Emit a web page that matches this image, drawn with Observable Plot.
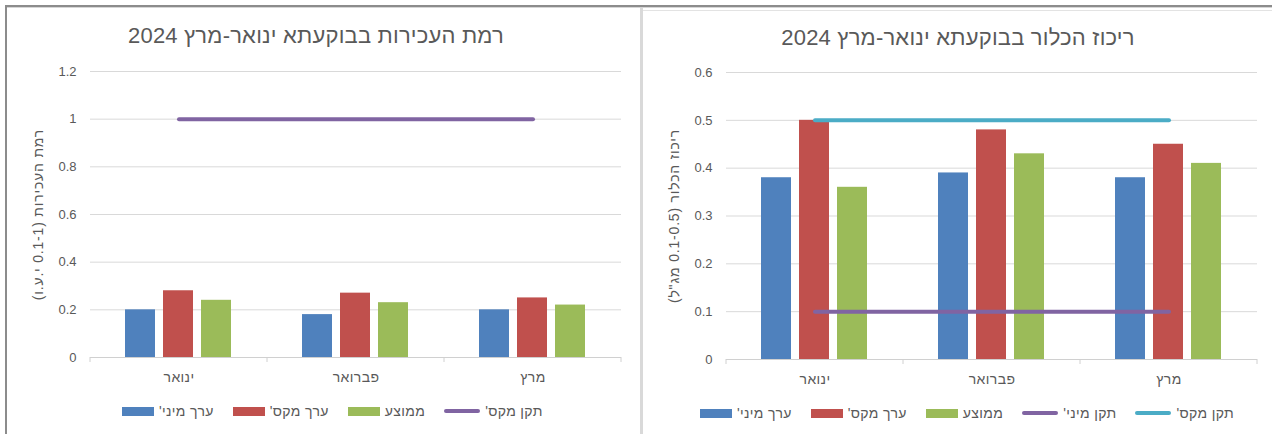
<!DOCTYPE html>
<html><head><meta charset="utf-8">
<script src="https://cdn.jsdelivr.net/npm/d3@7"></script>
<script src="https://cdn.jsdelivr.net/npm/@observablehq/plot@0.6"></script>
<style>
body{margin:0;background:#fff;width:1272px;height:434px;overflow:hidden;position:relative;font-family:"Liberation Sans",Arial,sans-serif;}
.deco{position:absolute}
.title{position:absolute;font-size:22px;letter-spacing:0.2px;line-height:24px;color:#595959;white-space:nowrap;transform:translateX(-50%);}
.legend{position:absolute;display:flex;align-items:center;gap:19px;font-size:14px;letter-spacing:0.35px;line-height:16px;color:#595959;white-space:nowrap}
.item{display:flex;align-items:center;gap:5px}
.sw{width:32px;height:9px}
.ln{width:36px;height:4px;border-radius:2px}
.panel{position:absolute}
g[aria-label="y-axis label"] text{font-size:14px;letter-spacing:0.8px}
g[aria-label="fx-axis tick label"] text{font-size:14px;letter-spacing:0.4px}
</style></head><body>
<div class="deco" style="left:5px;top:5px;width:1267px;height:2px;background:#8c8c8c"></div>
<div class="deco" style="left:5px;top:5px;width:2px;height:429px;background:#8c8c8c"></div>
<div class="deco" style="left:7px;top:7px;width:1265px;height:1px;background:#d6d6d6"></div>
<div class="deco" style="left:640px;top:8px;width:3px;height:426px;background:#d9d9d9"></div>
<div class="deco" style="left:643px;top:10px;width:629px;height:1px;background:#e3e3e3"></div>

<div class="title" dir="rtl" style="left:316px;top:24px">רמת העכירות בבוקעתא ינואר-מרץ 2024</div>
<div class="title" dir="rtl" style="left:958px;top:26px">ריכוז הכלור בבוקעתא ינואר-מרץ 2024</div>

<div id="left" class="panel" style="left:0px;top:50px"></div>
<div id="right" class="panel" style="left:636px;top:50px"></div>
<div id="legendLeft" class="legend" style="left:122px;top:403px"></div>
<div id="legendRight" class="legend" style="left:700px;top:405px"></div>

<script>
const FONT = '"Liberation Sans", Arial, sans-serif';

// ---- data ----
const months = ["ינואר", "פברואר", "מרץ"];
const seriesNames = ["ערך מיני'", "ערך מקס'", "ממוצע"];
const seriesColors = ["#4F81BD", "#C0504D", "#9BBB59"];

const turbMin = [0.2, 0.18, 0.2];
const turbMax = [0.28, 0.27, 0.25];
const turbAvg = [0.24, 0.23, 0.22];
const turbStdMax = [1, 1, 1];
const turbTicks = [0, 0.2, 0.4, 0.6, 0.8, 1, 1.2];
const turbLabel = "רמת העכירות (0.1-1 י.ע.ו)";

const chlMin = [0.38, 0.39, 0.38];
const chlMax = [0.5, 0.48, 0.45];
const chlAvg = [0.36, 0.43, 0.41];
const chlStdMin = [0.1, 0.1, 0.1];
const chlStdMax = [0.5, 0.5, 0.5];
const chlTicks = [0, 0.1, 0.2, 0.3, 0.4, 0.5, 0.6];
const chlLabel = "ריכוז הכלור (0.1-0.5 מג\"ל)";

const stdMinName = "תקן מיני'";
const stdMaxName = "תקן מקס'";
const stdMinColor = "#8064A2";
const stdMaxColorTurb = "#8064A2";
const stdMaxColorChl = "#4BACC6";

function rowsOf(seriesValues) {
  const rows = [];
  months.forEach((m, i) => seriesNames.forEach((s, j) => rows.push({month: m, series: s, value: seriesValues[j][i]})));
  return rows;
}

function panel(el, cfg) {
  const H = 350;
  const common = {width: cfg.width, height: H, marginLeft: cfg.ml, marginRight: cfg.mr, marginTop: cfg.mt, marginBottom: cfg.mb};
  const rows = rowsOf(cfg.values);
  const yDomain = [cfg.ticks[0], cfg.ticks[cfg.ticks.length - 1]];
  const bars = Plot.plot({
    ...common,
    style: {fontFamily: FONT, fontSize: "13px", color: "#595959", background: "transparent", overflow: "visible"},
    fx: {domain: months, padding: 0, label: null, axis: "bottom", tickSize: 0, tickPadding: 15},
    x: {domain: seriesNames, paddingInner: 0.205, paddingOuter: 0.88, axis: null},
    y: {domain: yDomain, ticks: cfg.ticks, tickSize: 0, tickPadding: 14, tickFormat: d => String(d),
        label: "\u200F" + cfg.label + "\u200F", labelAnchor: "center", labelArrow: "none", labelOffset: cfg.labelOffset},
    color: {domain: seriesNames, range: seriesColors},
    marks: [
      Plot.ruleY(cfg.ticks.slice(1), {stroke: "#d9d9d9", strokeWidth: 1}),
      Plot.barY(rows, {fx: "month", x: "series", y: "value", fill: "series"}),
      Plot.ruleY([0], {stroke: "#d0d0d0", strokeWidth: 1})
    ]
  });
  const overlay = Plot.plot({
    ...common,
    style: {background: "transparent", overflow: "visible"},
    x: {type: "band", domain: months, padding: 0, axis: null},
    y: {domain: yDomain, axis: null},
    marks: cfg.lines.map(l => Plot.lineY(months.map((m, i) => ({month: m, v: l.values[i]})),
      {x: "month", y: "v", stroke: l.color, strokeWidth: 4, strokeLinecap: "round"}))
  });
  // category boundary tick marks from the band scale
  const sx = overlay.scale("x"), sy = overlay.scale("y");
  const y0 = sy.apply(0);
  const bounds = months.map(m => sx.apply(m)).concat([sx.apply(months[months.length - 1]) + sx.bandwidth]);
  const g = d3.select(overlay).append("g");
  bounds.forEach(b => g.append("line").attr("x1", b).attr("x2", b).attr("y1", y0).attr("y2", y0 + 5)
    .attr("stroke", "#d0d0d0").attr("stroke-width", 1));
  const wrap = document.createElement("div");
  wrap.style.position = "relative";
  wrap.style.width = cfg.width + "px";
  wrap.style.height = H + "px";
  bars.style.position = "absolute"; bars.style.left = "0"; bars.style.top = "0";
  overlay.style.position = "absolute"; overlay.style.left = "0"; overlay.style.top = "0";
  wrap.appendChild(bars); wrap.appendChild(overlay);
  el.appendChild(wrap);
}

function legend(el, lines) {
  const items = seriesNames.map((s, i) => ({name: s, color: seriesColors[i], kind: "sw"}))
    .concat(lines.map(l => ({name: l.name, color: l.color, kind: "ln"})));
  for (const it of items) {
    const d = document.createElement("div"); d.className = "item";
    const s = document.createElement("div"); s.className = it.kind; s.style.background = it.color;
    const t = document.createElement("span"); t.dir = "rtl"; t.textContent = it.name;
    d.appendChild(s); d.appendChild(t); el.appendChild(d);
  }
}

const turbLines = [{name: stdMaxName, color: stdMaxColorTurb, values: turbStdMax}];
const chlLines = [{name: stdMinName, color: stdMinColor, values: chlStdMin}, {name: stdMaxName, color: stdMaxColorChl, values: chlStdMax}];

panel(document.getElementById("left"), {
  width: 640, ml: 89, mr: 18, mt: 21, mb: 43, labelOffset: 57,
  values: [turbMin, turbMax, turbAvg], ticks: turbTicks, label: turbLabel, lines: turbLines
});
panel(document.getElementById("right"), {
  width: 636, ml: 89, mr: 14, mt: 22, mb: 41, labelOffset: 57,
  values: [chlMin, chlMax, chlAvg], ticks: chlTicks, label: chlLabel, lines: chlLines
});
legend(document.getElementById("legendLeft"), turbLines);
legend(document.getElementById("legendRight"), chlLines);
</script>
</body></html>
